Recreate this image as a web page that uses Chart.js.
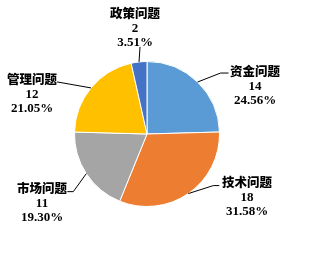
<!DOCTYPE html>
<html><head><meta charset="utf-8">
<script src="https://cdn.jsdelivr.net/npm/chart.js@4/dist/chart.umd.min.js"></script>
<style>html,body{margin:0;padding:0;background:#fff}#wrap{width:320px;height:254px}</style>
</head><body><div id="wrap"><canvas id="c" width="320" height="254"></canvas></div>
<script>
const categories = ['资金问题', '技术问题', '市场问题', '管理问题', '政策问题'];
const counts = [14, 18, 11, 12, 2];
const percentLabels = ['24.56%', '31.58%', '19.30%', '21.05%', '3.51%'];
const colors = ['#5B9BD5', '#ED7D31', '#A5A5A5', '#FFC000', '#4472C4'];

// label layout: elbow point offset from arc edge, horizontal tail, text anchor
const labelLayout = [
  {elbow:[23,-9], tail:[8,0], text:[255,71]},
  {elbow:[25,-8], tail:[6,0], text:[247,182]},
  {elbow:[-13,18], tail:[-6,0], text:[42,188]},
  {elbow:[-34,-6], tail:[0,0], text:[32,79]},
  {elbow:[1,-15], tail:[0,0], text:[135,13]}
];

const labelPlugin = {
  id: 'labels',
  afterDatasetsDraw(chart) {
    const ctx = chart.ctx;
    const meta = chart.getDatasetMeta(0);
    ctx.save();
    meta.data.forEach((arc, i) => {
      const mid = (arc.startAngle + arc.endAngle) / 2;
      const x0 = arc.x + Math.cos(mid) * arc.outerRadius;
      const y0 = arc.y + Math.sin(mid) * arc.outerRadius;
      const L = labelLayout[i];
      const x1 = x0 + L.elbow[0], y1 = y0 + L.elbow[1];
      ctx.strokeStyle = '#000';
      ctx.lineWidth = 1;
      ctx.beginPath();
      ctx.moveTo(x0, y0);
      ctx.lineTo(x1, y1);
      ctx.lineTo(x1 + L.tail[0], y1 + L.tail[1]);
      ctx.stroke();
      ctx.fillStyle = '#000';
      ctx.textAlign = 'center';
      ctx.textBaseline = 'middle';
      ctx.font = "900 12.5px 'Noto Sans CJK SC'";
      ctx.fillText(categories[i], L.text[0], L.text[1]);
      ctx.font = "bold 13px 'Liberation Serif'";
      ctx.fillText(String(counts[i]), L.text[0], L.text[1] + 16);
      ctx.fillText(percentLabels[i], L.text[0], L.text[1] + 30);
    });
    ctx.restore();
  }
};

new Chart(document.getElementById('c'), {
  type: 'pie',
  data: {
    labels: categories,
    datasets: [{
      data: counts,
      backgroundColor: colors,
      borderColor: '#ffffff',
      borderWidth: 1
    }]
  },
  options: {
    responsive: false,
    animation: false,
    layout: {padding: {left: 74, right: 100, top: 61, bottom: 47}},
    plugins: {legend: {display: false}, tooltip: {enabled: false}}
  },
  plugins: [labelPlugin]
});
</script>
</body></html>
